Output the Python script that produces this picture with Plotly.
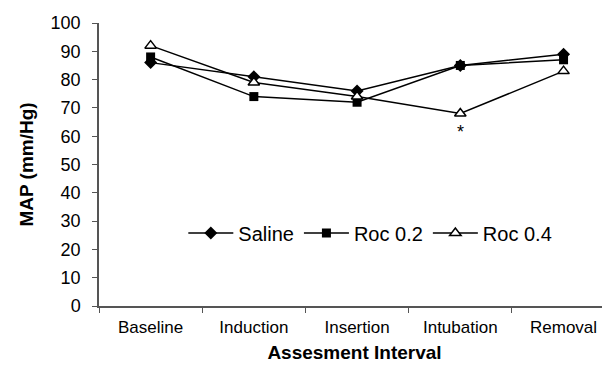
import plotly.graph_objects as go

categories = ["Baseline", "Induction", "Insertion", "Intubation", "Removal"]
saline = [86, 81, 76, 85, 89]
roc02 = [88, 74, 72, 85, 87]
roc04 = [92, 79, 74, 68, 83]
y_ticks = list(range(0, 101, 10))

fig = go.Figure()
line = dict(color="black", width=1.5)
fig.add_trace(go.Scatter(x=categories, y=saline, name="Saline", mode="lines+markers",
                         line=line, marker=dict(symbol="diamond", size=10, color="black")))
fig.add_trace(go.Scatter(x=categories, y=roc02, name="Roc 0.2", mode="lines+markers",
                         line=line, marker=dict(symbol="square", size=9, color="black")))
fig.add_trace(go.Scatter(x=categories, y=roc04, name="Roc 0.4", mode="lines+markers",
                         line=line, marker=dict(symbol="triangle-up", size=10, color="white",
                                                line=dict(color="black", width=1.5))))

fig.add_annotation(x="Intubation", y=roc04[3], yshift=-18, text="*", showarrow=False,
                   font=dict(size=18, color="black", family="Arial"))

fig.update_layout(
    width=602, height=363,
    margin=dict(l=91, r=0, t=15, b=65),
    plot_bgcolor="white", paper_bgcolor="white",
    font=dict(family="Arial, Liberation Sans", color="black"),
    showlegend=True,
    legend=dict(orientation="h", x=0.165, xanchor="left", y=0.258, yanchor="middle",
                font=dict(size=20), bgcolor="rgba(0,0,0,0)", itemwidth=45,
                tracegroupgap=0),
    xaxis=dict(range=[-0.5, 4.45], showline=True, linecolor="#555", linewidth=1.5,
               ticks="outside", tickson="boundaries", ticklen=5, tickcolor="#555",
               tickfont=dict(size=17), showgrid=False, zeroline=False, ticklabelstandoff=5,
               title=dict(text="<b>Assesment Interval</b>", font=dict(size=19), standoff=10)),
    yaxis=dict(range=[0, 100], tickvals=y_ticks, showline=True, linecolor="#555", linewidth=1.5,
               ticks="outside", ticklen=5, tickcolor="#555", tickfont=dict(size=18),
               showgrid=False, zeroline=False, ticklabelstandoff=8,
               title=dict(text="<b>MAP (mm/Hg)</b>", font=dict(size=19), standoff=12)),
)

fig.write_html("out.html")
